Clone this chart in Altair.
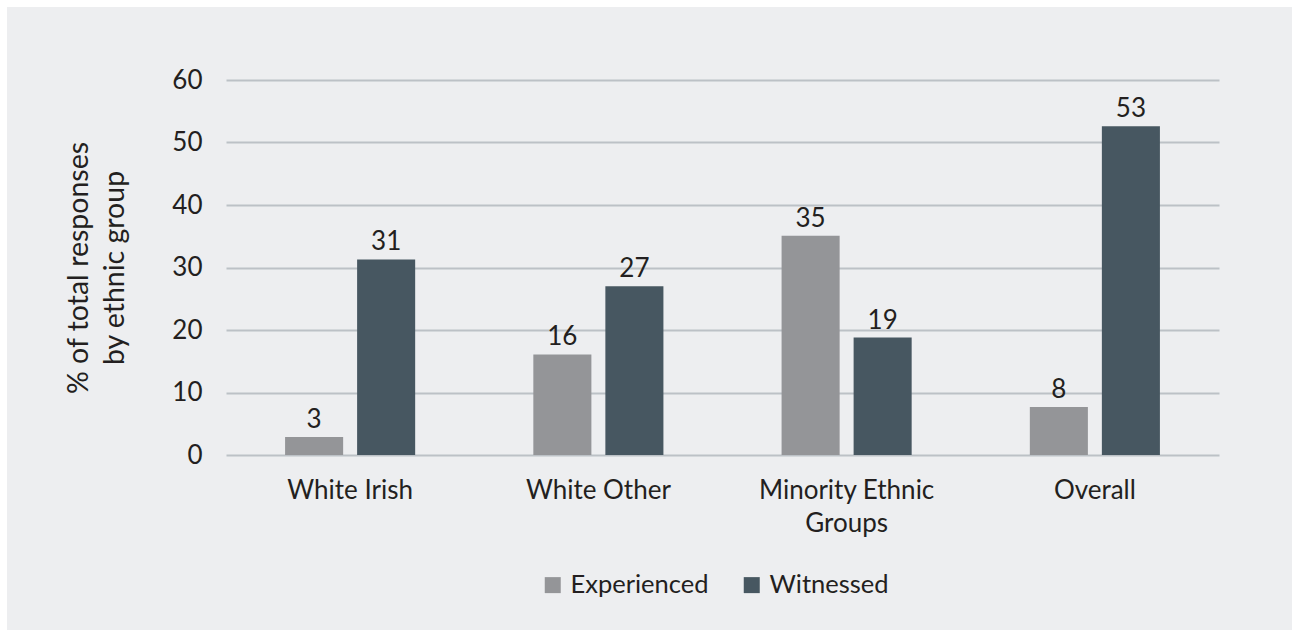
import altair as alt
import pandas as pd

groups = ["White Irish", "White Other", "Minority Ethnic Groups", "Overall"]
series = ["Experienced", "Witnessed"]
experienced = [2.9, 16.1, 35.1, 7.7]
witnessed = [31.3, 27.0, 18.8, 52.6]
colors = ["#949598", "#475761"]

rows = []
for g, e, w in zip(groups, experienced, witnessed):
    rows.append({"group": g, "series": "Experienced", "value": e})
    rows.append({"group": g, "series": "Witnessed", "value": w})
df = pd.DataFrame(rows)

FONT = "Lato"
TXT = "#231f20"
W, H = 993, 375
PL, PT, PR, PB = 226, 80, 73, 175

x_enc = alt.X(
    "group:N", sort=groups,
    scale=alt.Scale(paddingInner=0.476, paddingOuter=0.238),
    axis=alt.Axis(
        title=None, labelAngle=0, ticks=False, domain=False, labelPadding=22,
        labelFontSize=26, labelLineHeight=33, labelColor=TXT, labelFont=FONT,
        labelExpr="datum.label == 'Minority Ethnic Groups' ? ['Minority Ethnic', 'Groups'] : datum.label",
    ),
)
xo_enc = alt.XOffset("series:N", sort=series, scale=alt.Scale(paddingInner=0.194))
y_enc = alt.Y(
    "value:Q",
    scale=alt.Scale(domain=[0, 60], nice=False),
    axis=alt.Axis(
        values=[0, 10, 20, 30, 40, 50, 60], grid=True, gridColor="#bcc1c6", gridWidth=2,
        domain=False, ticks=False, labelPadding=24, labelFontSize=26, labelColor=TXT,
        labelFont=FONT, title=["% of total responses", "by ethnic group"],
        titleFontSize=28.5, titleFontWeight="normal", titleColor=TXT, titleFont=FONT,
        titlePadding=42, titleLineHeight=36,
    ),
)

bars = alt.Chart(df).mark_bar().encode(
    x=x_enc, xOffset=xo_enc, y=y_enc,
    color=alt.Color(
        "series:N", sort=series,
        scale=alt.Scale(domain=series, range=colors),
        legend=alt.Legend(
            title=None, orient="none", legendX=314, legendY=492, direction="horizontal",
            symbolType="square", symbolSize=256, symbolStrokeWidth=0, labelFontSize=25.5,
            labelFont=FONT, labelColor=TXT, labelOffset=5, columnPadding=30, padding=0,
        ),
    ),
)
labels = alt.Chart(df).mark_text(
    baseline="alphabetic", dy=-9, fontSize=26, font=FONT, color=TXT
).encode(
    x=x_enc, xOffset=xo_enc, y=y_enc,
    text=alt.Text("value:Q", format=".0f"),
)

strip_df = pd.DataFrame({"a": [0]})
left_strip = alt.Chart(strip_df).mark_rect(color="white").encode(
    x=alt.value(-PL), x2=alt.value(-PL + 7), y=alt.value(-PT), y2=alt.value(H + PB)
)
top_strip = alt.Chart(strip_df).mark_rect(color="white").encode(
    x=alt.value(-PL), x2=alt.value(W + PR), y=alt.value(-PT), y2=alt.value(-PT + 7)
)

chart = alt.layer(left_strip, top_strip, bars, labels).properties(
    width=W, height=H,
    background="#edeef0",
    padding={"left": PL, "top": PT, "right": PR, "bottom": PB},
    autosize=alt.AutoSizeParams(type="none"),
).configure_view(stroke=None)

chart.save("out.html", embed_options={"renderer": "svg", "actions": False})
